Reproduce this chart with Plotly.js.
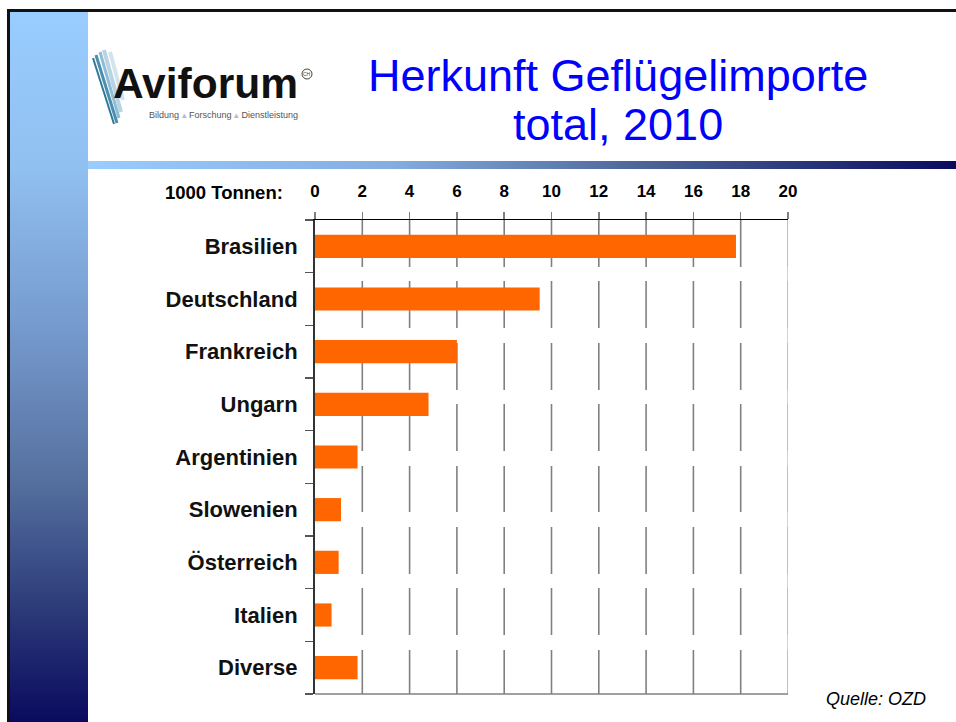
<!DOCTYPE html>
<html>
<head>
<meta charset="utf-8">
<script src="https://cdn.plot.ly/plotly-3.0.1.min.js"></script>
<style>
  html, body { margin: 0; padding: 0; background: #ffffff; }
  #chart { width: 956px; height: 722px; }
</style>
</head>
<body>
<div id="chart"></div>
<script>
// ---- data ----
const categories = ['Brasilien', 'Deutschland', 'Frankreich', 'Ungarn', 'Argentinien', 'Slowenien', 'Österreich', 'Italien', 'Diverse'];
const values = [17.8, 9.5, 6.0, 4.8, 1.8, 1.1, 1.0, 0.7, 1.8];
const xTickValues = [0, 2, 4, 6, 8, 10, 12, 14, 16, 18, 20];
const xTickLabels = ['0', '2', '4', '6', '8', '10', '12', '14', '16', '18', '20'];
const unitLabel = '1000 Tonnen:';
const titleLines = ['Herkunft Geflügelimporte', 'total, 2010'];
const sourceLabel = 'Quelle: OZD';
const logoName = 'Aviforum';
const logoTagline = 'Bildung <span style="color:#bbbbbb">▴</span> Forschung <span style="color:#bbbbbb">▴</span> Dienstleistung';

// ---- layout geometry (pixels) ----
const W = 956, H = 722;
const L = 315, R = 788, T = 220, B = 694;
const px = x => (x - L) / (R - L);
const py = y => (B - y) / (B - T);

function svgURI(svg) { return 'data:image/svg+xml;charset=utf-8,' + encodeURIComponent(svg); }

const stripSVG = '<svg xmlns="http://www.w3.org/2000/svg" width="78" height="710" preserveAspectRatio="none">' +
  '<defs><linearGradient id="g" x1="0" y1="0" x2="0" y2="1">' +
  '<stop offset="0" stop-color="#99ccff"/>' +
  '<stop offset="0.22" stop-color="#90c0f0"/>' +
  '<stop offset="0.45" stop-color="#7599cc"/>' +
  '<stop offset="0.66" stop-color="#55709f"/>' +
  '<stop offset="0.85" stop-color="#2a3877"/>' +
  '<stop offset="1" stop-color="#0a0a5e"/>' +
  '</linearGradient></defs><rect width="78" height="710" fill="url(#g)"/></svg>';

const barSVG = '<svg xmlns="http://www.w3.org/2000/svg" width="868" height="8" preserveAspectRatio="none">' +
  '<defs><linearGradient id="h" x1="0" y1="0" x2="1" y2="0">' +
  '<stop offset="0" stop-color="#99ccff"/>' +
  '<stop offset="0.35" stop-color="#85ade0"/>' +
  '<stop offset="0.65" stop-color="#4a6296"/>' +
  '<stop offset="1" stop-color="#0a0a5e"/>' +
  '</linearGradient></defs><rect width="868" height="8" fill="url(#h)"/></svg>';

const images = [
  { source: svgURI(stripSVG), xref: 'paper', yref: 'paper', x: px(10), y: py(12), sizex: px(88) - px(10), sizey: py(12) - py(722), xanchor: 'left', yanchor: 'top', sizing: 'stretch', layer: 'below' },
  { source: svgURI(barSVG), xref: 'paper', yref: 'paper', x: px(88), y: py(161), sizex: px(956) - px(88), sizey: py(161) - py(169), xanchor: 'left', yanchor: 'top', sizing: 'stretch', layer: 'below' }
];

// vertical gridlines, drawn in segments (the original rendering shows regular breaks)
const gridSegments = [[220, 267], [281, 328], [343, 390], [404, 451], [466, 512], [527, 574], [588, 635], [650, 694]];
const shapes = [];
xTickValues.filter(v => v > 0).forEach(v => {
  gridSegments.forEach(s => shapes.push({
    type: 'line', layer: 'below', xref: 'x', yref: 'paper',
    x0: v, x1: v, y0: py(s[0]), y1: py(s[1]),
    line: { color: '#808080', width: 1.6 }
  }));
});
// right border continues faintly through the breaks
shapes.push({ type: 'line', layer: 'below', xref: 'x', yref: 'paper', x0: 20, x1: 20, y0: 0, y1: 1, line: { color: '#c8c8c8', width: 1.6 } });

// bottom plot border
shapes.push({ type: 'line', xref: 'paper', yref: 'paper', x0: 0, x1: 1, y0: 0, y1: 0, line: { color: '#808080', width: 1.5 }, layer: 'above' });
// frame lines
shapes.push({ type: 'line', xref: 'paper', yref: 'paper', x0: px(7), x1: px(960), y0: py(10.5), y1: py(10.5), line: { color: '#111111', width: 3 } });
shapes.push({ type: 'line', xref: 'paper', yref: 'paper', x0: px(8.5), x1: px(8.5), y0: py(9), y1: py(730), line: { color: '#111111', width: 3 } });

// logo feather strokes
const feather = [
  { x0: 96, y0: 55, x1: 117, y1: 123, c: '#4a8fb0', w: 3 },
  { x0: 100, y0: 52, x1: 119, y1: 118, c: '#8fbcd6', w: 3 },
  { x0: 104, y0: 50, x1: 121, y1: 112, c: '#b9d3e3', w: 4 },
  { x0: 110, y0: 52, x1: 123, y1: 100, c: '#d4e3ec', w: 4 },
  { x0: 93, y0: 58, x1: 114, y1: 124, c: '#2f7898', w: 2 }
];
feather.forEach(f => shapes.push({
  type: 'line', xref: 'paper', yref: 'paper', layer: 'below',
  x0: px(f.x0), y0: py(f.y0), x1: px(f.x1), y1: py(f.y1),
  line: { color: f.c, width: f.w }
}));
// registered mark circle
shapes.push({ type: 'circle', xref: 'paper', yref: 'paper', x0: px(302), x1: px(312), y0: py(69), y1: py(79), line: { color: '#444', width: 1 }, fillcolor: 'rgba(0,0,0,0)' });

const annotations = [
  { text: titleLines[0], xref: 'paper', yref: 'paper', x: px(618), y: py(75), xanchor: 'center', yanchor: 'middle', showarrow: false,
    font: { family: 'Liberation Sans, Arial, sans-serif', size: 45, color: '#0000ff' } },
  { text: titleLines[1], xref: 'paper', yref: 'paper', x: px(618), y: py(124), xanchor: 'center', yanchor: 'middle', showarrow: false,
    font: { family: 'Liberation Sans, Arial, sans-serif', size: 45, color: '#0000ff' } },
  { text: '<b>' + unitLabel + '</b>', xref: 'paper', yref: 'paper', x: px(285), y: py(192), xanchor: 'right', yanchor: 'middle', showarrow: false,
    font: { family: 'Liberation Sans, Arial, sans-serif', size: 18.5, color: '#000000' } },
  { text: '<i>' + sourceLabel + '</i>', xref: 'paper', yref: 'paper', x: px(876), y: py(699), xanchor: 'center', yanchor: 'middle', showarrow: false,
    font: { family: 'Liberation Sans, Arial, sans-serif', size: 18, color: '#000000' } },
  { text: '<b>' + logoName + '</b>', xref: 'paper', yref: 'paper', x: px(111), y: py(84), xanchor: 'left', yanchor: 'middle', showarrow: false,
    font: { family: 'Liberation Sans, Arial, sans-serif', size: 42.5, color: '#111111' } },
  { text: logoTagline, xref: 'paper', yref: 'paper', x: px(147), y: py(115), xanchor: 'left', yanchor: 'middle', showarrow: false,
    font: { family: 'Liberation Sans, Arial, sans-serif', size: 9, color: '#555555' } },
  { text: 'CH', xref: 'paper', yref: 'paper', x: px(307), y: py(74), xanchor: 'center', yanchor: 'middle', showarrow: false,
    font: { family: 'Liberation Sans, Arial, sans-serif', size: 5, color: '#444' } }
];

const trace = {
  type: 'bar',
  orientation: 'h',
  y: categories,
  x: values,
  width: 0.44,
  marker: { color: '#ff6600', line: { width: 0 } },
  hoverinfo: 'x+y'
};

const layout = {
  width: W, height: H,
  margin: { l: L, r: W - R, t: T, b: H - B, pad: 0 },
  paper_bgcolor: '#ffffff',
  plot_bgcolor: 'rgba(0,0,0,0)',
  showlegend: false,
  xaxis: {
    side: 'top',
    range: [0, 20],
    tickvals: xTickValues,
    ticktext: xTickLabels.map(t => '<b>' + t + '</b>'),
    ticks: 'outside', ticklen: 7, tickwidth: 1.5, tickcolor: '#808080',
    showgrid: false,
    zeroline: false,
    showline: true, linecolor: '#000000', linewidth: 1.5,
    tickfont: { family: 'Liberation Sans, Arial, sans-serif', size: 17, color: '#000000' },
    ticklabelstandoff: 8,
    fixedrange: true
  },
  yaxis: {
    type: 'category',
    autorange: 'reversed',
    tickson: 'boundaries',
    ticks: 'outside', ticklen: 8, tickwidth: 1.5, tickcolor: '#555555',
    showgrid: false, zeroline: false,
    showline: true, linecolor: '#333333', linewidth: 2,
    tickfont: { family: 'Liberation Sans, Arial, sans-serif', size: 22, color: '#111111' },
    ticktext: categories.map(c => '<b>' + c + '</b>'),
    tickvals: categories,
    ticklabelstandoff: 11,
    fixedrange: true
  },
  shapes: shapes,
  annotations: annotations,
  images: images,
  bargap: 0.56
};

Plotly.newPlot('chart', [trace], layout, { displayModeBar: false, staticPlot: true });
</script>
</body>
</html>
